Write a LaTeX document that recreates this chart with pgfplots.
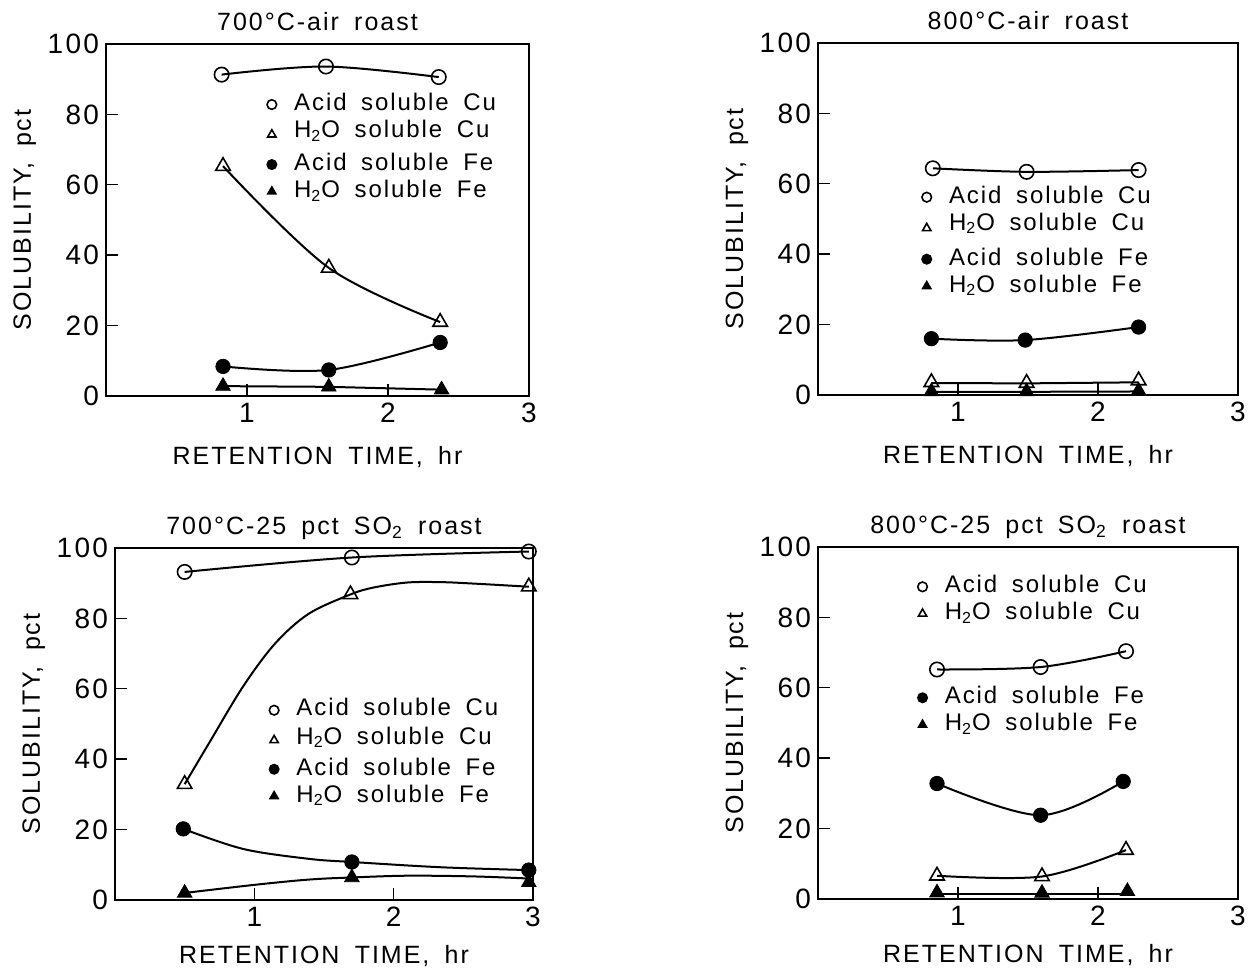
\documentclass[border=0pt]{standalone}
\usepackage{fontspec}
\setmainfont{Liberation Sans}[LetterSpace=8, WordSpace=1.7]
\usepackage{pgfplots}
\pgfplotsset{compat=1.18}
\pgfplotsset{
  panel/.style={
    scale only axis,
    xmin=0, xmax=3, ymin=0, ymax=100,
    xtick={1,2,3}, ytick={0,20,40,60,80,100},
    tick align=inside, xtick pos=left, ytick pos=left,
    major tick length=6pt,
    tick style={black, line width=0.7pt},
    axis line style={black, line width=0.9pt},
    /pgf/number format/assume math mode=true,
    tick label style={font=\fontsize{14}{16}\selectfont},
    label style={font=\fontsize{12.5}{14}\selectfont},
    title style={font=\fontsize{12.5}{14}\selectfont, at={(axis description cs:0.5,1)}, anchor=base, yshift=0.5pt},
    xlabel={RETENTION TIME, hr},
    ylabel={SOLUBILITY, pct},
    xlabel style={at={(axis description cs:0.5,0)}, anchor=base, yshift=-34.5pt},
    ylabel style={at={(axis description cs:0,0.5)}, anchor=base, yshift=37.5pt},
    legend style={draw=none, fill=none, inner sep=0pt, row sep=0.5pt,
      nodes={inner sep=1pt, text height=8.5pt, text depth=2.5pt},
      font=\fontsize{12}{13.5}\selectfont, legend cell align=left},
    legend image code/.code={\draw[#1, mark size=2.4pt, line width=0.7pt] plot coordinates {(0.15cm,0cm)};
      \path (0cm,0cm) (0.5cm,0cm);},
  },
  ln/.style={black, line width=1pt, smooth, tension=0.55, no marks, forget plot},
  oc/.style={only marks, mark=o, mark size=3.6pt, mark options={fill=white, draw=black, line width=0.8pt}},
  ot/.style={only marks, mark=triangle, mark size=4.2pt, mark options={fill=white, draw=black, line width=0.8pt}},
  fc/.style={only marks, mark=*, mark size=3.6pt, mark options={fill=black, draw=black}},
  ft/.style={only marks, mark=triangle*, mark size=4.2pt, mark options={fill=black, draw=black}},
}
\begin{document}
\begin{tikzpicture}
\useasboundingbox (0,0) rectangle (629.5pt,484.5pt);

% ---------- Panel 1: 700C air ----------
\begin{axis}[panel, at={(53pt,286.5pt)}, anchor=south west, width=211.5pt, height=176pt,
  title={700°C-air roast},
  legend style={at={(axis cs:1.11,86.6)}, anchor=north west}]
\addplot[ln] coordinates {(0.82,91.3) (1.56,93.6) (2.36,90.6)};
\addplot[ln] coordinates {(0.83,65.3) (1.58,36.4) (2.37,21.0)};
\addplot[ln] coordinates {(0.83,8.4) (1.58,7.4) (2.37,15.2)};
\addplot[ln, sharp plot] coordinates {(0.83,2.8) (1.58,2.6) (2.38,1.8)};
\addplot[oc] coordinates {(0.82,91.3) (1.56,93.6) (2.36,90.6)};
\addlegendentry{Acid soluble Cu}
\addplot[ot] coordinates {(0.83,65.3) (1.58,36.4) (2.37,21.0)};
\addlegendentry[text depth=5.5pt]{H\textsubscript{2}O soluble Cu}
\addplot[fc] coordinates {(0.83,8.4) (1.58,7.4) (2.37,15.2)};
\addlegendentry{Acid soluble Fe}
\addplot[ft] coordinates {(0.83,2.8) (1.58,2.6) (2.38,1.8)};
\addlegendentry{H\textsubscript{2}O soluble Fe}
\end{axis}

% ---------- Panel 2: 800C air ----------
\begin{axis}[panel, at={(409pt,287pt)}, anchor=south west, width=210pt, height=176pt,
  title={800°C-air roast},
  legend style={at={(axis cs:0.71,60)}, anchor=north west}]
\addplot[ln] coordinates {(0.82,64.4) (1.49,63.4) (2.29,63.9)};
\addplot[ln] coordinates {(0.81,16.0) (1.48,15.6) (2.29,19.3)};
\addplot[ln, sharp plot] coordinates {(0.81,3.4) (1.49,3.3) (2.29,3.6)};
\addplot[ln, sharp plot] coordinates {(0.81,0.9) (1.49,0.9) (2.29,1.0)};
\addplot[oc] coordinates {(0.82,64.4) (1.49,63.4) (2.29,63.9)};
\addlegendentry{Acid soluble Cu}
\addplot[ot] coordinates {(0.81,3.6) (1.49,3.4) (2.29,4.1)};
\addlegendentry[text depth=6.5pt]{H\textsubscript{2}O soluble Cu}
\addplot[fc] coordinates {(0.81,16.0) (1.48,15.6) (2.29,19.3)};
\addlegendentry{Acid soluble Fe}
\addplot[ft] coordinates {(0.81,1.0) (1.49,1.0) (2.29,1.2)};
\addlegendentry{H\textsubscript{2}O soluble Fe}
\end{axis}

% ---------- Panel 3: 700C SO2 ----------
\begin{axis}[panel, at={(57.5pt,34.5pt)}, anchor=south west, width=209pt, height=176pt,
  title={700°C-25 pct SO\textsubscript{2} roast},
  xlabel style={yshift=2.5pt},
  legend style={at={(axis cs:1.075,58)}, anchor=north west}]
\addplot[ln] coordinates {(0.50,93.2) (1.70,97.3) (2.97,99.0)};
\addplot[ln] coordinates {(0.50,32.9) (0.68,44.9) (0.92,60.7) (1.15,72.9) (1.39,81.3) (1.69,86.8) (1.86,88.8) (2.10,90.2) (2.34,90.3) (2.57,89.9) (2.97,89.0)};
\addplot[ln] coordinates {(0.49,20.2) (0.92,14.5) (1.39,11.7) (1.70,10.8) (2.34,9.3) (2.97,8.5)};
\addplot[ln] coordinates {(0.50,2.0) (1.0,4.3) (1.39,5.8) (1.70,6.4) (2.10,6.9) (2.57,6.7) (2.97,6.1)};
\addplot[oc] coordinates {(0.50,93.2) (1.70,97.3) (2.97,99.0)};
\addlegendentry[text depth=3.5pt]{Acid soluble Cu}
\addplot[ot] coordinates {(0.50,32.9) (1.69,86.8) (2.97,89.0)};
\addlegendentry[text depth=4.5pt]{H\textsubscript{2}O soluble Cu}
\addplot[fc] coordinates {(0.49,20.2) (1.70,10.8) (2.97,8.5)};
\addlegendentry{Acid soluble Fe}
\addplot[ft] coordinates {(0.50,2.0) (1.70,6.4) (2.97,5.0)};
\addlegendentry{H\textsubscript{2}O soluble Fe}
\end{axis}

% ---------- Panel 4: 800C SO2 ----------
\begin{axis}[panel, at={(409pt,35pt)}, anchor=south west, width=210pt, height=176pt,
  title={800°C-25 pct SO\textsubscript{2} roast},
  xlabel style={yshift=2.5pt},
  legend style={at={(axis cs:0.68,92.5)}, anchor=north west}]
\addplot[ln] coordinates {(0.85,65.2) (1.59,65.9) (2.20,70.4)};
\addplot[ln] coordinates {(0.85,32.8) (1.59,23.8) (2.18,33.4)};
\addplot[ln] coordinates {(0.85,6.6) (1.60,6.4) (2.20,13.9)};
\addplot[ln, sharp plot] coordinates {(0.85,1.5) (1.60,1.5) (2.21,1.5)};
\addplot[oc] coordinates {(0.85,65.2) (1.59,65.9) (2.20,70.4)};
\addlegendentry{Acid soluble Cu}
\addplot[ot] coordinates {(0.85,6.6) (1.60,6.4) (2.20,13.9)};
\addlegendentry{H\textsubscript{2}O soluble Cu}
\addlegendimage{empty legend}\addlegendentry[text depth=4pt]{}
\addlegendimage{empty legend}\addlegendentry{}
\addplot[fc] coordinates {(0.85,32.8) (1.59,23.8) (2.18,33.4)};
\addlegendentry{Acid soluble Fe}
\addplot[ft] coordinates {(0.85,1.8) (1.60,1.7) (2.21,2.2)};
\addlegendentry{H\textsubscript{2}O soluble Fe}
\end{axis}
\end{tikzpicture}
\end{document}
